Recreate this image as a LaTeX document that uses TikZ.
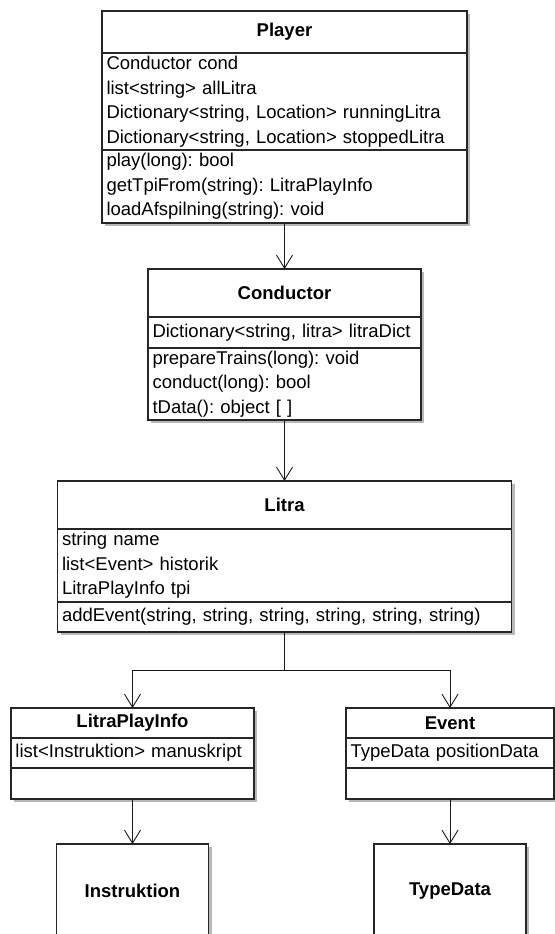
\documentclass[tikz,border=0pt]{standalone}
\usepackage{fontspec}
\setmainfont{Liberation Sans}
\usetikzlibrary{arrows.meta,positioning,shadows}
\frenchspacing

\begin{document}
\begin{tikzpicture}[
    x=1pt, y=-1pt,
    >={Straight Barb[length=13pt,width=16pt]},
    umlpart/.style={draw=black!85, line width=1.1pt, fill=white, outer sep=0pt,
        inner xsep=4.5pt, inner ysep=0pt, anchor=north,
        font=\fontsize{18.5}{24.5}\selectfont,
        drop shadow={shadow xshift=3pt, shadow yshift=-3pt, fill=black!28, opacity=1}},
    umlhead/.style={umlpart, font=\fontsize{18.5}{24.5}\selectfont\bfseries, align=center},
    umlbody/.style={umlpart, align=left},
    assoc/.style={->, line width=0.9pt, black!90},
]
\useasboundingbox (0,0) rectangle (554,934);

\node[umlhead, minimum width=365pt, minimum height=42pt] (player) at (284.5,11) {Player};
\node[umlbody, text width=356pt, minimum height=97pt, below=0pt of player] (player-attr)
    {Conductor cond\\list<string> allLitra\\Dictionary<string, Location> runningLitra\\Dictionary<string, Location> stoppedLitra};
\node[umlbody, text width=356pt, minimum height=73pt, below=0pt of player-attr] (player-ops)
    {play(long): bool\\getTpiFrom(string): LitraPlayInfo\\loadAfspilning(string): void};

\node[umlhead, minimum width=273pt, minimum height=48pt] (cond) at (284.5,269) {Conductor};
\node[umlbody, text width=264pt, minimum height=31pt, below=0pt of cond] (cond-attr)
    {Dictionary<string, litra> litraDict};
\node[umlbody, text width=264pt, minimum height=72pt, below=0pt of cond-attr] (cond-ops)
    {prepareTrains(long): void\\conduct(long): bool\\tData(): object [ ]};

\node[umlhead, minimum width=454pt, minimum height=48pt] (litra) at (284.5,481) {Litra};
\node[umlbody, text width=445pt, minimum height=73pt, below=0pt of litra] (litra-attr)
    {string name\\list<Event> historik\\LitraPlayInfo tpi};
\node[umlbody, text width=445pt, minimum height=30pt, below=0pt of litra-attr] (litra-ops)
    {addEvent(string, string, string, string, string, string)};

\node[umlhead, minimum width=243pt, minimum height=30pt] (lpi) at (132.5,708) {LitraPlayInfo};
\node[umlbody, text width=234pt, minimum height=30pt, below=0pt of lpi] (lpi-attr)
    {list<Instruktion> manuskript};
\node[umlbody, text width=234pt, minimum height=31pt, below=0pt of lpi-attr] (lpi-ops) {};

\node[umlhead, minimum width=208pt, minimum height=30pt] (event) at (450,708) {Event};
\node[umlbody, text width=199pt, minimum height=30pt, below=0pt of event] (event-attr)
    {TypeData positionData};
\node[umlbody, text width=199pt, minimum height=31pt, below=0pt of event-attr] (event-ops) {};

\node[umlhead, minimum width=152pt, minimum height=94pt] (instr) at (132.5,844) {Instruktion};
\node[umlhead, minimum width=152pt, minimum height=94pt] (typedata) at (450,844) {TypeData};

\coordinate (split) at (284.5,670);

\draw[assoc] (player-ops.south) -- (cond.north);
\draw[assoc] (cond-ops.south) -- (litra.north);
\draw[line width=0.9pt, black!90] (litra-ops.south) -- (split);
\draw[assoc] (split) -| (lpi.north);
\draw[assoc] (split) -| (event.north);
\draw[assoc] (lpi-ops.south) -- (instr.north);
\draw[assoc] (event-ops.south) -- (typedata.north);
\end{tikzpicture}
\end{document}
